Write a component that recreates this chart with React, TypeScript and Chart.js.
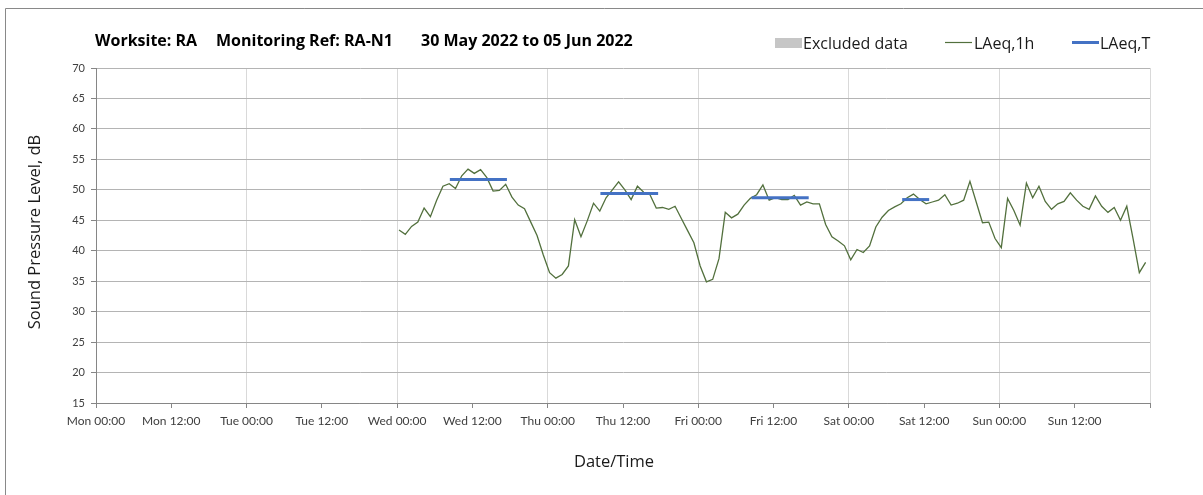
import React, { useEffect, useRef } from 'react';
import { Chart, registerables } from 'chart.js';

Chart.register(...registerables);

// ---- Data ----
const xTickLabels = [
  'Mon 00:00', 'Mon 12:00', 'Tue 00:00', 'Tue 12:00', 'Wed 00:00', 'Wed 12:00',
  'Thu 00:00', 'Thu 12:00', 'Fri 00:00', 'Fri 12:00', 'Sat 00:00', 'Sat 12:00',
  'Sun 00:00', 'Sun 12:00', '',
];
const xMaxHours = 168;
const xTickStepHours = 12;
const yMin = 15;
const yMax = 70;
const yStep = 5;

// hourly LAeq,1h, first value at Wed ~00:20 (hours from Mon 00:00)
const laeq1hStartHour = 48.3;
const laeq1hValues = [
  43.4, 42.7, 44.0, 44.7, 47.0, 45.6, 48.3, 50.6, 51.0, 50.2, 52.3, 53.4,
  52.7, 53.3, 52.0, 49.8, 49.9, 50.9, 48.8, 47.5, 46.9, 44.7, 42.5, 39.3,
  36.4, 35.5, 36.1, 37.5, 45.1, 42.3, 44.9, 47.8, 46.5, 48.7, 50.0, 51.3,
  50.0, 48.4, 50.6, 49.6, 49.2, 47.0, 47.1, 46.8, 47.3, 45.3, 43.3, 41.3,
  37.5, 34.9, 35.3, 38.7, 46.3, 45.4, 46.0, 47.5, 48.6, 49.2, 50.8, 48.3,
  48.7, 48.4, 48.4, 49.1, 47.5, 48.0, 47.7, 47.7, 44.3, 42.3, 41.6, 40.8,
  38.5, 40.2, 39.7, 40.8, 43.9, 45.5, 46.6, 47.2, 47.7, 48.7, 49.3, 48.4,
  47.7, 48.0, 48.3, 49.2, 47.5, 47.8, 48.3, 51.4, 48.0, 44.6, 44.7, 42.0,
  40.5, 48.6, 46.6, 44.2, 51.1, 48.7, 50.6, 48.1, 46.8, 47.7, 48.1, 49.5,
  48.3, 47.3, 46.8, 49.0, 47.3, 46.3, 47.1, 45.0, 47.3, 42.0, 36.4, 38.1,
];

// LAeq,T periods (hours from Mon 00:00)
const laeqTStart = [56.4, 80.4, 104.5, 128.5];
const laeqTEnd = [65.5, 89.6, 113.6, 132.8];
const laeqTValues = [51.7, 49.4, 48.7, 48.4];

const titleParts = ['Worksite: RA', 'Monitoring Ref: RA-N1', '30 May 2022 to 05 Jun 2022'];
const legendLabels = ['Excluded data', 'LAeq,1h', 'LAeq,T'];
const xTitle = 'Date/Time';
const yTitle = 'Sound Pressure Level, dB';

const FONT = 'Lato, "Open Sans", "DejaVu Sans", sans-serif';
const FONT2 = '"Open Sans", Lato, "DejaVu Sans", sans-serif';
const GREEN = '#52703d';
const BLUE = '#4472c4';

export default function App() {
  const ref = useRef<HTMLCanvasElement | null>(null);

  useEffect(() => {
    const canvas = ref.current;
    if (!canvas) return;

    const overlay = {
      id: 'overlay',
      afterDraw(chart: any) {
        const ctx = chart.ctx as CanvasRenderingContext2D;
        ctx.save();
        // outer chart border (top & left visible)
        ctx.strokeStyle = '#898989';
        ctx.lineWidth = 1;
        ctx.beginPath();
        ctx.moveTo(5.5, 495);
        ctx.lineTo(5.5, 8.5);
        ctx.lineTo(1203, 8.5);
        ctx.stroke();

        // title
        ctx.fillStyle = '#000';
        ctx.textBaseline = 'middle';
        ctx.textAlign = 'left';
        ctx.font = `bold 16px ${FONT2}`;
        const tx = [95, 216, 421];
        titleParts.forEach((t, i) => ctx.fillText(t, tx[i], 41));

        // legend
        ctx.font = `16px ${FONT2}`;
        ctx.fillStyle = '#c6c6c6';
        ctx.fillRect(775, 38, 27, 10);
        ctx.fillStyle = '#1a1a1a';
        ctx.fillText(legendLabels[0], 803, 44);
        ctx.strokeStyle = GREEN;
        ctx.lineWidth = 1.2;
        ctx.beginPath();
        ctx.moveTo(945, 42.5);
        ctx.lineTo(972, 42.5);
        ctx.stroke();
        ctx.fillText(legendLabels[1], 974, 44);
        ctx.strokeStyle = BLUE;
        ctx.lineWidth = 3;
        ctx.beginPath();
        ctx.moveTo(1072, 42.5);
        ctx.lineTo(1099, 42.5);
        ctx.stroke();
        ctx.fillText(legendLabels[2], 1100, 44);

        // axis titles
        ctx.textAlign = 'center';
        ctx.font = `16.5px ${FONT2}`;
        ctx.fillText(xTitle, 614, 462);
        ctx.translate(35, 232);
        ctx.rotate(-Math.PI / 2);
        ctx.fillText(yTitle, 0, 0);
        ctx.restore();
      },
    };

    const datasets: any[] = [];
    laeqTValues.forEach((v, i) => {
      datasets.push({
        data: [
          { x: laeqTStart[i], y: v },
          { x: laeqTEnd[i], y: v },
        ],
        borderColor: BLUE,
        borderWidth: 3,
        pointRadius: 0,
        order: 0,
      });
    });
    datasets.push({
      data: laeq1hValues.map((v, i) => ({ x: laeq1hStartHour + i, y: v })),
      borderColor: GREEN,
      borderWidth: 1.3,
      pointRadius: 0,
      tension: 0,
      order: 1,
    });

    const chart = new Chart(canvas, {
      type: 'line',
      data: { datasets },
      options: {
        animation: false,
        responsive: false,
        devicePixelRatio: 1,
        layout: { padding: { top: 68, right: 53, left: 0, bottom: 0 } },
        plugins: {
          legend: { display: false },
          title: { display: false },
          tooltip: { enabled: false },
        },
        elements: { point: { radius: 0 }, line: { tension: 0 } },
        scales: {
          x: {
            type: 'linear',
            min: 0,
            max: xMaxHours,
            afterBuildTicks: (scale: any) => {
              scale.ticks = xTickLabels.map((_, i) => ({ value: i * xTickStepHours }));
            },
            afterFit: (scale: any) => {
              scale.height = 92;
            },
            ticks: {
              autoSkip: false,
              maxRotation: 0,
              minRotation: 0,
              padding: 6,
              color: '#404040',
              font: { family: FONT, size: 12 },
              callback: (v: any) => xTickLabels[Math.round(Number(v) / xTickStepHours)] ?? '',
            },
            grid: {
              color: (c: any) =>
                c.tick && Math.round(c.tick.value) % 24 === 0 ? '#d9d9d9' : 'rgba(0,0,0,0)',
              tickColor: '#868686',
              tickLength: 5,
            },
            border: { color: '#868686' },
          },
          y: {
            type: 'linear',
            min: yMin,
            max: yMax,
            afterFit: (scale: any) => {
              scale.width = 96;
            },
            ticks: {
              stepSize: yStep,
              padding: 6,
              color: '#404040',
              font: { family: FONT, size: 11 },
            },
            grid: {
              color: '#b4b4b4',
              tickColor: '#868686',
              tickLength: 5,
            },
            border: { color: '#868686' },
          },
        },
      },
      plugins: [overlay],
    } as any);

    return () => chart.destroy();
  }, []);

  return (
    <div style={{ position: 'fixed', left: 0, top: 0, width: 1203, height: 495, background: '#fff' }}>
      <canvas ref={ref} width={1203} height={495} style={{ display: 'block' }} />
    </div>
  );
}
